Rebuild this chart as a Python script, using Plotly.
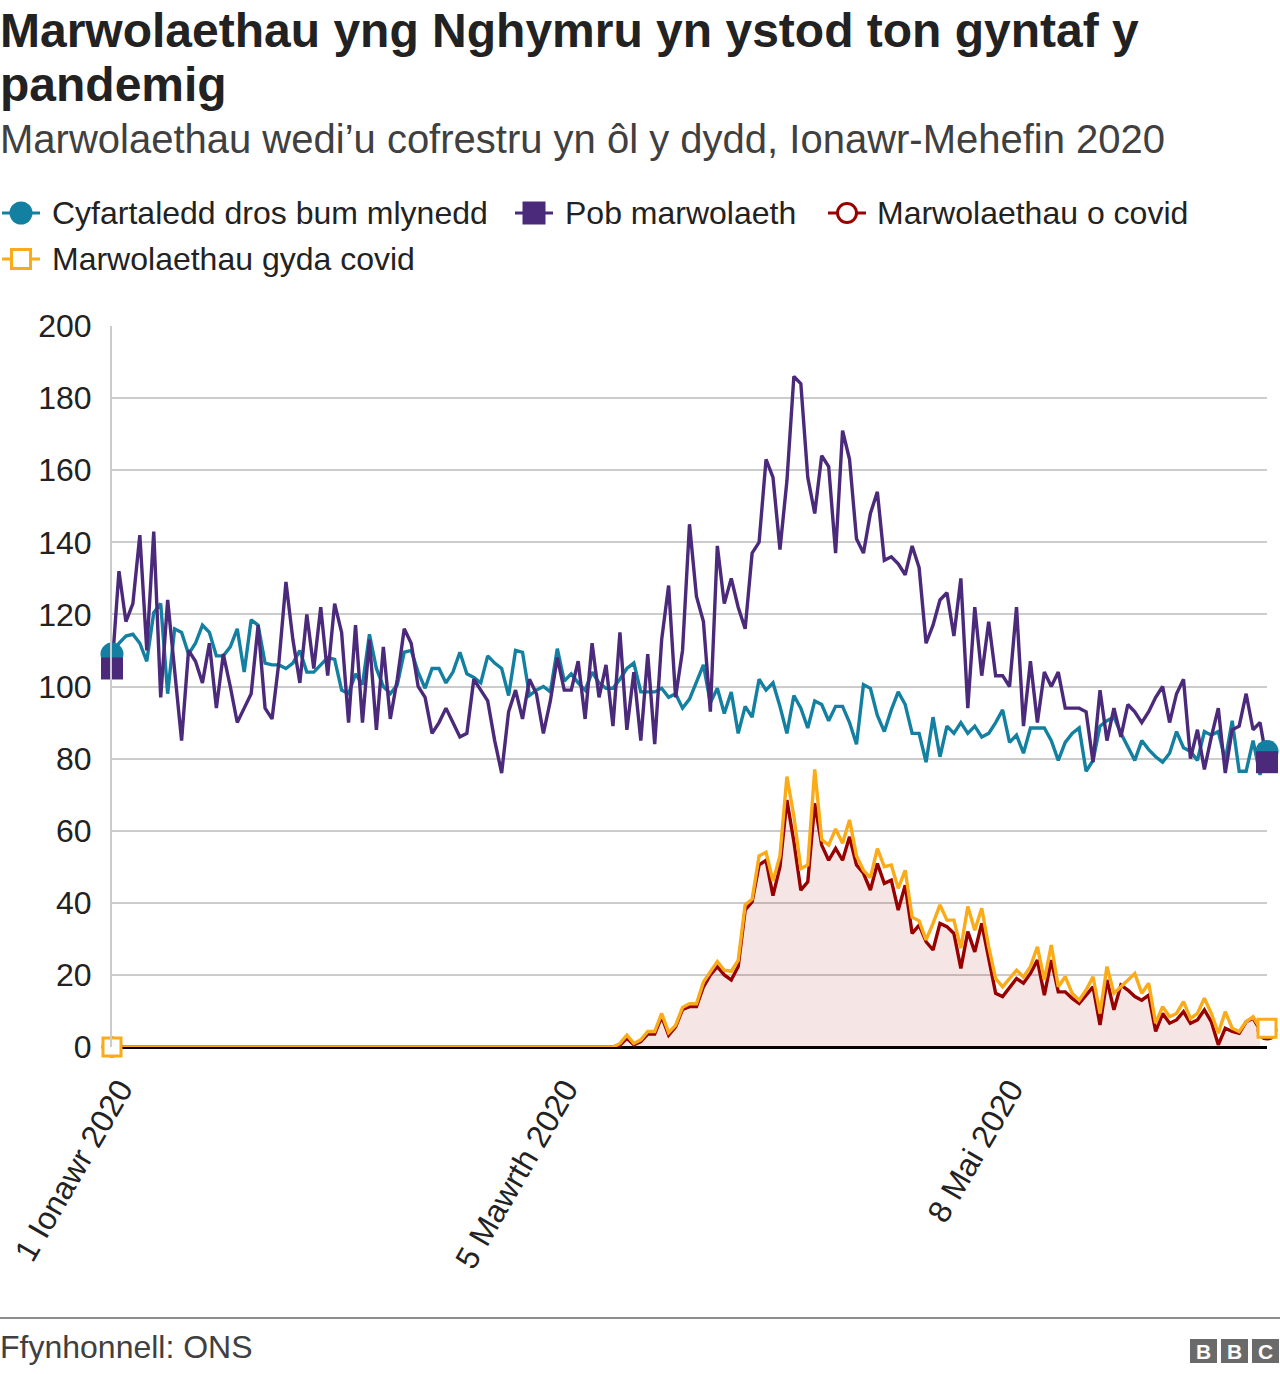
import plotly.graph_objects as go
import pandas as pd

# ---------------- data ----------------
dates = pd.date_range("2020-01-01", periods=167, freq="D")

avg_five_years = [
    109, 112, 114, 114.5, 112, 107, 120.5, 123, 98, 116,
    115, 109, 112, 117, 115, 108.5, 108.5, 111, 116, 104,
    118.5, 117, 106.5, 106, 106, 105, 106.5, 110, 104, 104,
    106, 108, 107.5, 99, 98, 103.5, 100.5, 114.5, 105, 100,
    98, 100.5, 109.5, 110, 104, 99.5, 105, 105, 101, 104,
    109.5, 103.5, 102.5, 101, 108.5, 106.5, 105, 97.5, 110, 109.5,
    97.5, 99, 100, 98.5, 110.5, 101.5, 103.5, 101, 99, 104,
    101, 99.5, 99.5, 102, 105, 106.5, 98.5, 98.5, 98.5, 99.5,
    97, 98, 94, 96.5, 101, 106, 95.5, 99.5, 92.5, 98.5,
    87, 94.5, 91.5, 102, 99, 101, 94.5, 87, 97.5, 94,
    88.5, 96, 95, 90.5, 94.5, 94.5, 90, 84, 100.5, 99.5,
    92, 87.5, 93.5, 98.5, 95, 87, 87, 79, 91.5, 80.5,
    89, 87, 90, 87, 89, 86, 87, 90, 93.5, 84.5,
    86.5, 81.5, 88.5, 88.5, 88.5, 85, 79.5, 84.5, 87, 88.5,
    76.5, 79.5, 89, 90.5, 91.5, 87, 83, 79.5, 85, 82.5,
    80.5, 79, 81.5, 87.5, 83, 82, 79.5, 87.5, 86.5, 87.5,
    79.5, 90.5, 76.5, 76.5, 85, 75.5, 82,
]

all_deaths = [
    105, 132, 118, 123, 142, 110, 143, 97, 124, 105,
    85, 110, 107, 101, 112, 94, 109, 100, 90, 94,
    98, 117, 94, 91, 107, 129, 113, 101, 120, 105,
    122, 103, 123, 115, 90, 117, 90, 113, 88, 111,
    91, 102, 116, 112, 100, 97, 87, 90, 94, 90,
    86, 87, 102, 99, 96, 85, 76, 93, 99, 91,
    102, 98, 87, 96, 108, 99, 99, 107, 91, 112,
    97, 106, 89, 115, 88, 104, 85, 109, 84, 113,
    128, 97, 110, 145, 125, 118, 93, 139, 123, 130,
    122, 116, 137, 140, 163, 158, 138, 157, 186, 184,
    158, 148, 164, 161, 137, 171, 163, 141, 137, 148,
    154, 135, 136, 134, 131, 139, 133, 112, 117, 124,
    126, 114, 130, 94, 122, 103, 118, 103, 103, 100,
    122, 89, 107, 90, 104, 100, 104, 94, 94, 94,
    93, 79, 99, 85, 94, 86, 95, 93, 90, 93,
    97, 100, 90, 98, 102, 80, 88, 77, 86, 94,
    76, 88, 89, 98, 88, 90, 79,
]

covid_deaths = [
    0, 0, 0, 0, 0, 0, 0, 0, 0, 0,
    0, 0, 0, 0, 0, 0, 0, 0, 0, 0,
    0, 0, 0, 0, 0, 0, 0, 0, 0, 0,
    0, 0, 0, 0, 0, 0, 0, 0, 0, 0,
    0, 0, 0, 0, 0, 0, 0, 0, 0, 0,
    0, 0, 0, 0, 0, 0, 0, 0, 0, 0,
    0, 0, 0, 0, 0, 0, 0, 0, 0, 0,
    0, 0, 0, 0.5, 2.4, 0.6, 1.5, 3.6, 3.6, 8.4,
    3.3, 5.6, 10.4, 11.2, 11.2, 16.7, 20, 22.3, 20, 18.6,
    22.3, 38, 40.3, 50.5, 51.8, 42, 50, 68.5, 57, 43.5,
    45.8, 67.6, 56, 51.8, 55.1, 51.8, 58.3, 50.5, 48.2, 43.5,
    50.9, 45.4, 46.3, 38, 44.9, 31.5, 33.8, 29.2, 26.9, 34.3,
    33.4, 31.5, 21.8, 32, 26.4, 34.3, 24.6, 14.9, 14, 16.7,
    19, 17.7, 20.4, 24.1, 14.4, 24.1, 15.3, 15.3, 13.5, 12.1,
    14.4, 16.7, 6.1, 18.6, 10.3, 17.2, 15.8, 14, 13, 14.4,
    4.3, 9.3, 6.6, 7.5, 9.8, 6.6, 7.5, 10.3, 7, 0.6,
    5.2, 4.3, 3.8, 7, 8, 4.7,
]

with_covid = [
    0, 0, 0, 0, 0, 0, 0, 0, 0, 0,
    0, 0, 0, 0, 0, 0, 0, 0, 0, 0,
    0, 0, 0, 0, 0, 0, 0, 0, 0, 0,
    0, 0, 0, 0, 0, 0, 0, 0, 0, 0,
    0, 0, 0, 0, 0, 0, 0, 0, 0, 0,
    0, 0, 0, 0, 0, 0, 0, 0, 0, 0,
    0, 0, 0, 0, 0, 0, 0, 0, 0, 0,
    0, 0, 0, 1, 3.3, 1, 2, 4.3, 4.3, 9.3,
    4, 6, 11, 12, 12, 18, 21, 23.7, 21.3, 21,
    24, 39.4, 41, 53, 54, 46, 53, 75, 64, 49.5,
    50.5, 77, 57.5, 56, 60.5, 56.5, 63, 53, 49, 47,
    55, 50, 50.5, 44, 49, 36, 35, 29.7, 34.3, 39.4,
    35.2, 35.2, 27.4, 39, 32.4, 38.5, 27.8, 19, 16.7, 19,
    21.3, 19.4, 22.3, 27.8, 18.6, 28.3, 16.7, 19.5, 14.9, 13,
    15.8, 19.5, 9.3, 22.3, 14.9, 16.7, 18.6, 20.4, 14.9, 17.7,
    6.6, 11.2, 8.4, 9.3, 12.6, 7.9, 9.3, 13.5, 9.3, 3.8,
    9.8, 5.2, 4.3, 7, 8.4, 5.2,
]

tick_dates = ["2020-01-01", "2020-03-05", "2020-05-08"]
tick_text = ["1 Ionawr 2020", "5 Mawrth 2020", "8 Mai 2020"]

series_names = [
    "Cyfartaledd dros bum mlynedd",
    "Pob marwolaeth",
    "Marwolaethau o covid",
    "Marwolaethau gyda covid",
]

title_lines = ["Marwolaethau yng Nghymru yn ystod ton gyntaf y", "pandemig"]
subtitle = "Marwolaethau wedi\u2019u cofrestru yn \u00f4l y dydd, Ionawr-Mehefin 2020"
source = "Ffynhonnell: ONS"

# ---------------- style ----------------
TEAL = "#1380A1"
PURPLE = "#4B2A7B"
RED = "#990000"
ORANGE = "#FAAB18"
FONT = "Liberation Sans, Arial, Helvetica, sans-serif"
W, H = 1280, 1374
L, R, T, B = 112, 1267, 326, 1047
LW = 3.4


def fx(px):
    return (px - L) / (R - L)


def fy(py):
    return (B - py) / (B - T)


fig = go.Figure()

# lines
fig.add_trace(go.Scatter(x=dates, y=covid_deaths, mode="lines",
                         line=dict(color=RED, width=LW),
                         fill="tozeroy", fillcolor="rgba(153,0,0,0.1)",
                         showlegend=False, hoverinfo="skip"))
fig.add_trace(go.Scatter(x=dates, y=with_covid, mode="lines",
                         line=dict(color=ORANGE, width=LW),
                         showlegend=False, hoverinfo="skip"))
fig.add_trace(go.Scatter(x=dates, y=avg_five_years, mode="lines",
                         line=dict(color=TEAL, width=LW),
                         showlegend=False, hoverinfo="skip"))
fig.add_trace(go.Scatter(x=dates, y=all_deaths, mode="lines",
                         line=dict(color=PURPLE, width=LW),
                         showlegend=False, hoverinfo="skip"))

# end markers
ends = [dates[0], dates[-1]]
fig.add_trace(go.Scatter(x=ends, y=[avg_five_years[0], avg_five_years[-1]], mode="markers",
                         marker=dict(symbol="circle", size=23, color=TEAL),
                         cliponaxis=False, showlegend=False, hoverinfo="skip"))
fig.add_trace(go.Scatter(x=ends, y=[all_deaths[0], all_deaths[-1]], mode="markers",
                         marker=dict(symbol="square", size=22, color=PURPLE),
                         cliponaxis=False, showlegend=False, hoverinfo="skip"))
fig.add_trace(go.Scatter(x=ends, y=[covid_deaths[0], covid_deaths[-1]], mode="markers",
                         marker=dict(symbol="circle", size=18, color="white",
                                     line=dict(color=RED, width=3)),
                         cliponaxis=False, showlegend=False, hoverinfo="skip"))
fig.add_trace(go.Scatter(x=ends, y=[with_covid[0], with_covid[-1]], mode="markers",
                         marker=dict(symbol="square", size=18, color="white",
                                     line=dict(color=ORANGE, width=3)),
                         cliponaxis=False, showlegend=False, hoverinfo="skip"))

shapes = []
annotations = []

# titles
annotations.append(dict(text="<b>%s</b>" % title_lines[0], x=fx(-2), y=fy(30.5),
                        font=dict(size=48, color="#222222", family=FONT)))
annotations.append(dict(text="<b>%s</b>" % title_lines[1], x=fx(-2), y=fy(84.5),
                        font=dict(size=48, color="#222222", family=FONT)))
annotations.append(dict(text=subtitle, x=fx(-2), y=fy(139),
                        font=dict(size=40, color="#404040", family=FONT)))

# manual legend
legend_items = [
    (series_names[0], TEAL, "circle", True, 2, 213, 52),
    (series_names[1], PURPLE, "square", True, 515, 213, 565),
    (series_names[2], RED, "circle", False, 828, 213, 877),
    (series_names[3], ORANGE, "square", False, 2, 259, 52),
]
for name, col, sym, filled, x0, yc, tx in legend_items:
    shapes.append(dict(type="line", xref="paper", yref="paper",
                       x0=fx(x0), x1=fx(x0 + 38), y0=fy(yc), y1=fy(yc),
                       line=dict(color=col, width=3)))
    cx = x0 + 19
    half = 11.5 if filled else 9.5
    shapes.append(dict(type="circle" if sym == "circle" else "rect",
                       xref="paper", yref="paper",
                       x0=fx(cx - half), x1=fx(cx + half),
                       y0=fy(yc + half), y1=fy(yc - half),
                       fillcolor=col if filled else "white",
                       line=dict(color=col, width=0 if filled else 3)))
    annotations.append(dict(text=name, x=fx(tx - 2), y=fy(yc),
                            font=dict(size=32, color="#222222", family=FONT)))

# footer
shapes.append(dict(type="line", xref="paper", yref="paper",
                   x0=fx(0), x1=fx(1280), y0=fy(1318), y1=fy(1318),
                   line=dict(color="#8c8c8c", width=2)))
annotations.append(dict(text=source, x=fx(-2), y=fy(1347),
                        font=dict(size=32, color="#404040", family=FONT)))
for i, letter in enumerate(["B", "B", "C"]):
    bx0 = 1190 + i * 31
    shapes.append(dict(type="rect", xref="paper", yref="paper",
                       x0=fx(bx0), x1=fx(bx0 + 27), y0=fy(1363), y1=fy(1339),
                       fillcolor="#6a6a6a", line=dict(width=0)))
    annotations.append(dict(text="<b>%s</b>" % letter, x=fx(bx0 + 13.5), y=fy(1351),
                            xanchor="center",
                            font=dict(size=21, color="white", family=FONT)))

for a in annotations:
    a.setdefault("xanchor", "left")
    a["yanchor"] = "middle"
    a["xref"] = "paper"
    a["yref"] = "paper"
    a["showarrow"] = False

fig.update_layout(
    width=W, height=H, autosize=False,
    margin=dict(l=L, r=W - R, t=T, b=H - B, pad=0, autoexpand=False),
    paper_bgcolor="white", plot_bgcolor="white",
    font=dict(family=FONT, size=32, color="#222222"),
    showlegend=False,
    shapes=shapes, annotations=annotations,
    xaxis=dict(type="date", range=[dates[0], dates[-1]], automargin=False,
               tickvals=tick_dates, ticktext=tick_text, tickangle=-60,
               tickfont=dict(size=32, color="#222222", family=FONT),
               ticklabeloverflow="allow", ticklabelstandoff=16, ticklabelshift=8,
               showgrid=False, zeroline=False, showline=False, ticks=""),
    yaxis=dict(range=[0, 200], dtick=20, tick0=0, automargin=False,
               showgrid=True, gridcolor="#cccccc", gridwidth=2,
               showline=True, linecolor="#cccccc", linewidth=2,
               zeroline=True, zerolinecolor="#000000", zerolinewidth=3,
               ticks="", ticklabelstandoff=12,
               tickfont=dict(size=32, color="#222222", family=FONT)),
)

fig.write_html(
    "out.html",
    config={"displayModeBar": False},
    post_script="document.body.style.margin='0';document.body.style.overflow='hidden';",
)
